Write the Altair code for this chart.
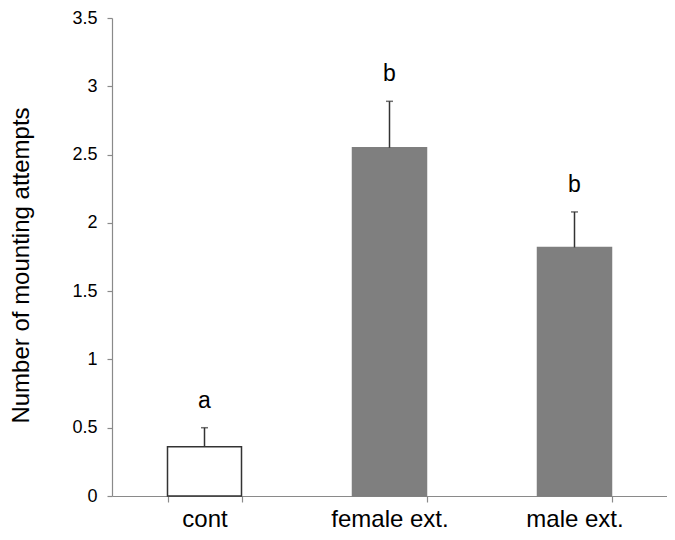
import altair as alt
import pandas as pd

categories = ["cont", "female ext.", "male ext."]
means = [0.36, 2.55, 1.82]
upper = [0.50, 2.89, 2.08]
letters = ["a", "b", "b"]
y_ticks = [0, 0.5, 1, 1.5, 2, 2.5, 3, 3.5]

df = pd.DataFrame({"category": categories, "mean": means, "upper": upper, "letter": letters})

FONT = "Liberation Sans"
AXIS_GREY = "#8a8a8a"

xscale = alt.Scale(domain=categories, paddingInner=0.6, paddingOuter=0.3)
yscale = alt.Scale(domain=[0, 3.5], nice=False, zero=True)

x_enc = alt.X(
    "category:N", sort=categories, scale=xscale,
    axis=alt.Axis(title=None, labelAngle=0, labelFontSize=24, labelFont=FONT,
                  labelColor="black", labelPadding=5, tickSize=6, tickBand="extent",
                  domainColor=AXIS_GREY, tickColor=AXIS_GREY, domainWidth=1.2, tickWidth=1.2,
                  grid=False),
)

bars = alt.Chart(df).mark_bar(strokeWidth=1.5).encode(
    x=x_enc,
    y=alt.Y("mean:Q", scale=yscale,
            axis=alt.Axis(values=y_ticks, format="~g", title="Number of mounting attempts",
                          titleFont=FONT, titleFontSize=24, titleFontWeight="normal",
                          titleColor="black", titleX=-84, titleY=247, titleAngle=270,
                          titleAlign="center", titleBaseline="alphabetic",
                          labelFont=FONT, labelFontSize=18, labelColor="black",
                          labelPadding=10, tickSize=5, domainColor=AXIS_GREY,
                          tickColor=AXIS_GREY, domainWidth=1.2, tickWidth=1.2, grid=False)),
    fill=alt.condition("datum.category == 'cont'", alt.value("white"), alt.value("#7f7f7f")),
    stroke=alt.condition("datum.category == 'cont'", alt.value("#333333"), alt.value("#7f7f7f")),
)

err = alt.Chart(df).mark_rule(color="#333333", strokeWidth=1.5).encode(
    x=alt.X("category:N", sort=categories, scale=xscale),
    y=alt.Y("mean:Q", scale=yscale),
    y2="upper:Q",
)

cap = alt.Chart(df).mark_tick(color="#333333", thickness=1.5, size=7).encode(
    x=alt.X("category:N", sort=categories, scale=xscale),
    y=alt.Y("upper:Q", scale=yscale),
)

txt = alt.Chart(df).mark_text(font=FONT, fontSize=23, color="black",
                              baseline="alphabetic", dy=-20).encode(
    x=alt.X("category:N", sort=categories, scale=xscale),
    y=alt.Y("upper:Q", scale=yscale),
    text="letter:N",
)

chart = alt.layer(bars, err, cap, txt).properties(
    width=555, height=478,
    autosize=alt.AutoSizeParams(type="none"),
    padding={"left": 104, "top": 10, "right": 0, "bottom": 34},
).configure_view(stroke=None)

chart.save("out.html", embed_options={"renderer": "svg", "actions": False})
